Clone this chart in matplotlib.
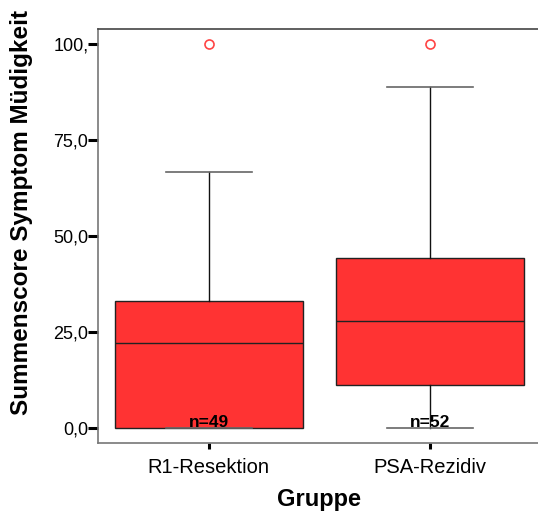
import matplotlib
matplotlib.use("Agg")
import matplotlib.pyplot as plt

plt.rcParams['font.family'] = ['Liberation Sans', 'DejaVu Sans']

# group summaries (score 0-100)
groups = ["R1-Resektion", "PSA-Rezidiv"]
counts = [49, 52]
q1 = [0.0, 11.1]
medians = [22.2, 27.8]
q3 = [33.0, 44.4]
whislo = [0.0, 0.0]
whishi = [66.7, 88.9]
outliers = [[100.0], [100.0]]

yticks = [0, 25, 50, 75, 100]
yticklabels = ["0,0", "25,0", "50,0", "75,0", "100,"]

stats = []
for i, g in enumerate(groups):
    stats.append(dict(label=g, q1=q1[i], med=medians[i], q3=q3[i],
                      whislo=whislo[i], whishi=whishi[i], fliers=outliers[i]))

fig = plt.figure(figsize=(5.38, 5.14), dpi=100)
ax = fig.add_axes([98 / 538, 71 / 514, 443 / 538, 414 / 514])

ax.bxp(stats, positions=[1, 2], widths=0.85, patch_artist=True,
       boxprops=dict(facecolor="#ff3333", edgecolor="#222222", linewidth=1.0),
       medianprops=dict(color="#222222", linewidth=1.0),
       whiskerprops=dict(color="#111111", linewidth=1.0),
       capprops=dict(color="#666666", linewidth=1.2),
       capwidths=0.39,
       flierprops=dict(marker="o", markerfacecolor="none",
                       markeredgecolor="#ff4444", markersize=6.5, markeredgewidth=1.2))

for i, n in enumerate(counts):
    ax.text(i + 1, -0.6, f"n={n}", ha="center", va="bottom",
            fontsize=12.5, fontweight="bold")

ax.set_xlim(0.5, 2.5)
ax.set_ylim(-3.9, 103.9)
ax.set_yticks(yticks)
ax.set_yticklabels(yticklabels)
ax.set_xticks([1, 2])
ax.set_xticklabels(groups)
ax.tick_params(axis="y", direction="out", length=7, width=2.2, color="black",
               labelsize=13, pad=0)
ax.tick_params(axis="x", direction="out", length=4.5, width=2.2, color="black",
               labelsize=14.5, pad=6)

for side in ["left", "bottom", "top"]:
    ax.spines[side].set_color("#777777")
    ax.spines[side].set_linewidth(1.2)
ax.spines["top"].set_color("#444444")
ax.spines["right"].set_visible(False)

ax.set_ylabel("Summenscore Symptom Müdigkeit", fontsize=17.5, fontweight="bold")
ax.yaxis.set_label_coords(-0.147, 0.556)
ax.set_xlabel("Gruppe", fontsize=17, fontweight="bold", labelpad=8)

fig.savefig("out.png", dpi=100)
